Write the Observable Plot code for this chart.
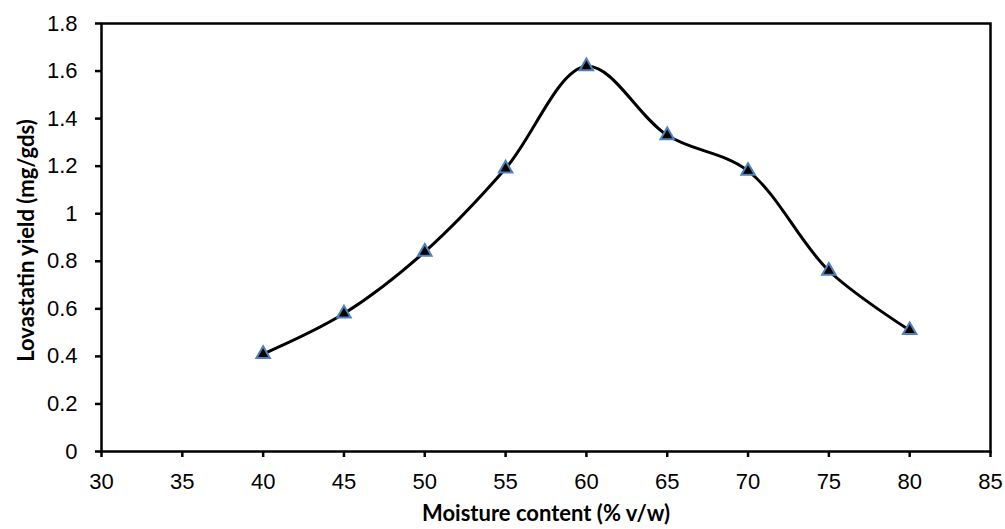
<!DOCTYPE html>
<html>
<head>
<meta charset="utf-8">
<script src="https://cdn.jsdelivr.net/npm/d3@7"></script>
<script src="https://cdn.jsdelivr.net/npm/@observablehq/plot@0.6"></script>
<style>
  html, body { margin: 0; padding: 0; background: #fff; }
  #chart { width: 1005px; height: 529px; }
</style>
</head>
<body>
<div id="chart"></div>
<script>
const moisture = [40, 45, 50, 55, 60, 65, 70, 75, 80];
const yieldVals = [0.41, 0.58, 0.84, 1.19, 1.62, 1.33, 1.18, 0.76, 0.51];
const xTicks = [30, 35, 40, 45, 50, 55, 60, 65, 70, 75, 80, 85];
const yTicks = [0, 0.2, 0.4, 0.6, 0.8, 1, 1.2, 1.4, 1.6, 1.8];
const xTitle = "Moisture content (% v/w)";
const yTitle = "Lovastatin yield (mg/gds)";

const data = moisture.map((m, i) => ({x: m, y: yieldVals[i]}));

const chart = Plot.plot({
  width: 1005,
  height: 529,
  marginLeft: 101,
  marginRight: 15,
  marginTop: 23,
  marginBottom: 78,
  style: {fontFamily: "Liberation Sans, Arial, sans-serif", background: "#fff", color: "#000"},
  x: {domain: [30, 85]},
  y: {domain: [0, 1.8]},
  marks: [
    Plot.frame({stroke: "#000", strokeWidth: 2.5}),
    Plot.axisX({ticks: xTicks, tickSize: 6, tickPadding: 16, fontSize: 22, label: null, strokeWidth: 2.5}),
    Plot.axisY({ticks: yTicks, tickSize: 6, tickPadding: 18, fontSize: 22, label: null, strokeWidth: 2.5,
      tickFormat: d => String(+d.toFixed(1))}),
    Plot.line(data, {x: "x", y: "y", curve: "catmull-rom", stroke: "#000", strokeWidth: 3}),
    Plot.dot(data, {x: "x", y: "y", symbol: "triangle", r: 5, fill: "#000", stroke: "#4f81bd", strokeWidth: 2}),
    Plot.text([xTitle], {frameAnchor: "bottom", textAnchor: "middle", lineAnchor: "middle", dy: 62, fontWeight: "bold", fontSize: 22, fontFamily: "Lato", fill: "#000"}),
    Plot.text([yTitle], {frameAnchor: "left", textAnchor: "middle", lineAnchor: "middle", dx: -75, dy: 3, rotate: -90, fontWeight: "bold", fontSize: 22, fontFamily: "Lato", fill: "#000"})
  ]
});
document.getElementById("chart").appendChild(chart);
</script>
</body>
</html>
